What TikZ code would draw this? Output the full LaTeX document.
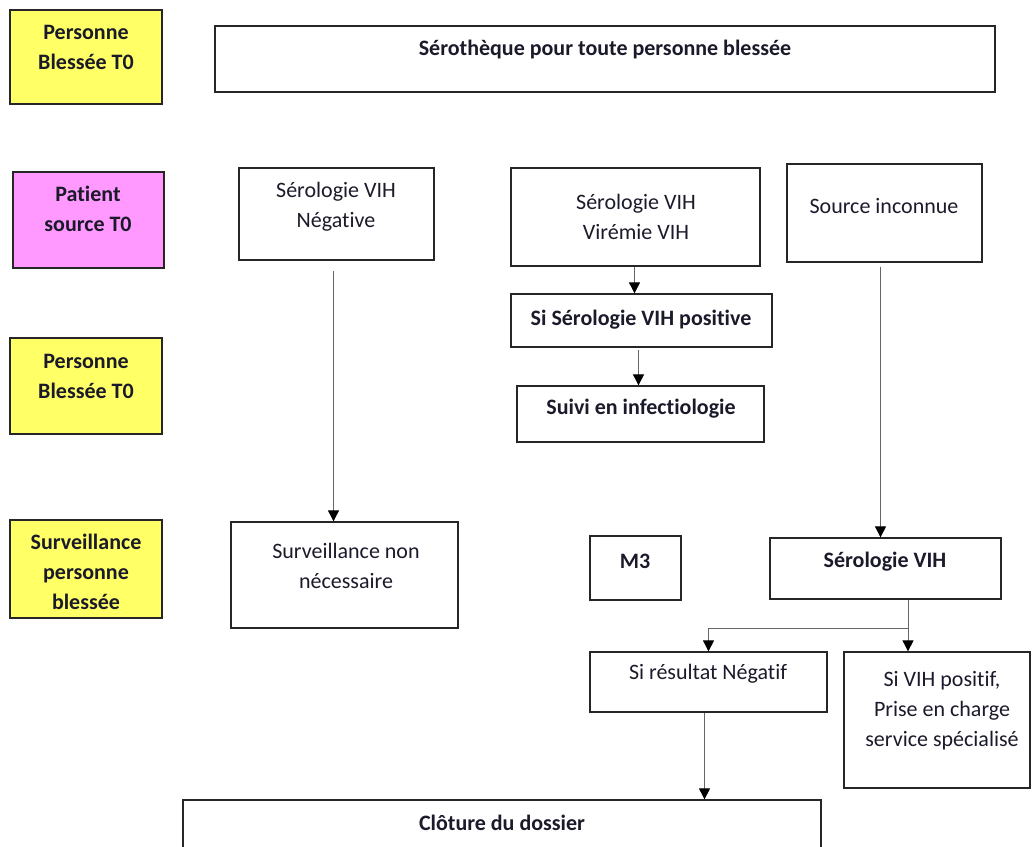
\documentclass[tikz,border=0pt]{standalone}
\usepackage{fontspec}
\setmainfont{Carlito}[Ligatures=NoCommon]
\usetikzlibrary{fit,arrows.meta}
\definecolor{ylw}{HTML}{FFFF66}
\definecolor{pnk}{HTML}{FF99FF}
\definecolor{ink}{HTML}{1A1A2A}
\begin{document}
\begin{tikzpicture}[x=1pt,y=-1pt,
  box/.style={draw=black!85, line width=1.3pt, inner sep=0pt},
  txt/.style={align=center, text=ink, font=\fontsize{22}{30}\selectfont, inner sep=0pt},
  btxt/.style={txt, font=\fontsize{22}{30}\selectfont\bfseries},
  conn/.style={draw=black!60, line width=0.9pt, -{Triangle[length=11pt,width=11pt,color=black]}}
]
\useasboundingbox (0,0) rectangle (1032,846);
% boxes
\node[box, fill=ylw, fit={(10,10)(162,104)}] (y1) {};
\node[box, fit={(215,26)(995,92)}] (sero0) {};
\node[box, fill=pnk, fit={(13,172)(164,268)}] (pat) {};
\node[box, fit={(239,168)(434,260)}] (neg) {};
\node[box, fit={(511,168)(760,266)}] (vir) {};
\node[box, fit={(787,164)(982,262)}] (src) {};
\node[box, fill=ylw, fit={(10,338)(162,434)}] (y2) {};
\node[box, fit={(511,294)(772,347)}] (pos) {};
\node[box, fit={(517,386)(764,442)}] (suivi) {};
\node[box, fill=ylw, fit={(10,520)(162,618)}] (y3) {};
\node[box, fit={(231,522)(458,628)}] (surv) {};
\node[box, fit={(590,536)(681,600)}] (m3) {};
\node[box, fit={(770,538)(1001,599)}] (sero) {};
\node[box, fit={(590,652)(827,712)}] (rneg) {};
\node[box, fit={(844,652)(1030,788)}] (vpos) {};
\node[box, fit={(183,800)(821,870)}] (clot) {};
% texts
\node[btxt] (y1t) at (86,47) {Personne\\Blessée T0};
\node[btxt] (sero0t) at (605,50) {Sérothèque pour toute personne blessée};
\node[btxt] (patt) at (88,209) {Patient\\source T0};
\node[txt] (negt) at (336,207) {Sérologie VIH\\Négative};
\node[txt] (virt) at (636,217) {Sérologie VIH\\Virémie VIH};
\node[txt] (srct) at (884,206) {Source inconnue};
\node[btxt] (y2t) at (86,376) {Personne\\Blessée T0};
\node[btxt] (post) at (641,320) {Si Sérologie VIH positive};
\node[btxt] (suivit) at (641,409) {Suivi en infectiologie};
\node[btxt] (y3t) at (86,572) {Surveillance\\personne\\blessée};
\node[txt] (survt) at (346,566) {Surveillance non\\nécessaire};
\node[btxt] (m3t) at (635,561) {M3};
\node[btxt] (serot) at (885,562) {Sérologie VIH};
\node[txt] (rnegt) at (708,674) {Si résultat Négatif};
\node[txt] (vpost) at (942,711) {Si VIH positif,\\Prise en charge\\service spécialisé};
\node[btxt] (clott) at (502,823) {Clôture du dossier};
% connectors
\draw[conn, shorten <=10pt] ([xshift=-3pt]neg.south) -- ([xshift=-3pt]neg.south |- surv.north);
\draw[conn] ([xshift=-1pt]vir.south) -- ([xshift=-1pt]vir.south |- pos.north);
\draw[conn, shorten <=2pt] ([xshift=-3pt]pos.south) -- ([xshift=-3pt]pos.south |- suivi.north);
\draw[conn, shorten <=4pt] ([xshift=-4pt]src.south) -- ([xshift=-4pt]src.south |- sero.north);
\coordinate (br) at (908,628);
\draw[draw=black!60, line width=0.9pt] (br |- sero.south) -- (br);
\draw[conn] (br) -| (rneg.north);
\draw[conn] (br) -- (br |- vpos.north);
\draw[conn] ([xshift=-4pt]rneg.south) -- ([xshift=-4pt]rneg.south |- clot.north);
\end{tikzpicture}
\end{document}
